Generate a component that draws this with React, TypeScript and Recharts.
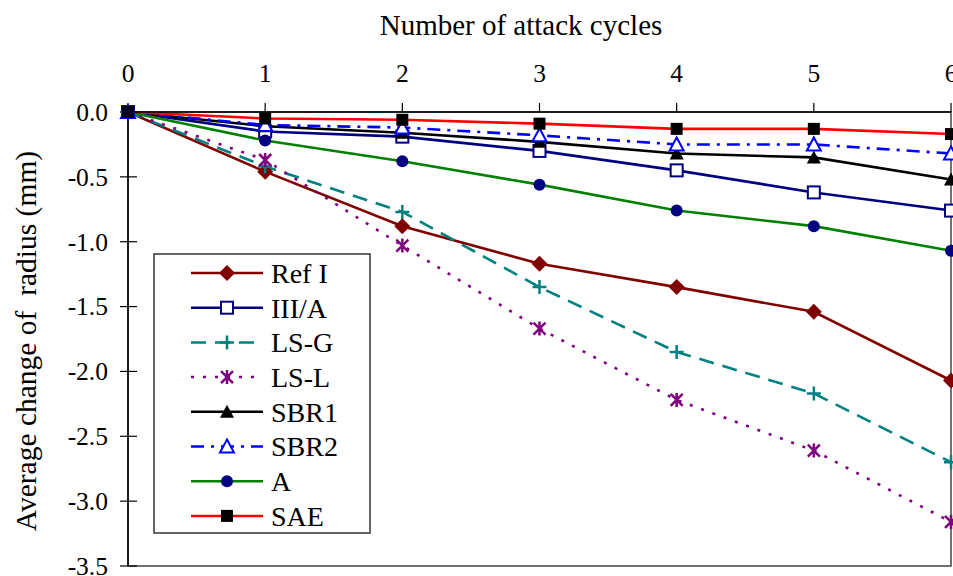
import React from "react";
import { LineChart, Line, XAxis, YAxis, ReferenceArea, Legend } from "recharts";

// values
const cycles = [0, 1, 2, 3, 4, 5, 6];
const refI = [0, -0.46, -0.88, -1.17, -1.35, -1.54, -2.07];
const iiiA = [0, -0.15, -0.19, -0.3, -0.45, -0.62, -0.76];
const lsG = [0, -0.42, -0.77, -1.35, -1.85, -2.17, -2.7];
const lsL = [0, -0.37, -1.03, -1.67, -2.22, -2.61, -3.16];
const sbr1 = [0, -0.11, -0.16, -0.23, -0.32, -0.35, -0.52];
const sbr2 = [0, -0.1, -0.12, -0.18, -0.25, -0.25, -0.32];
const seriesA = [0, -0.22, -0.38, -0.56, -0.76, -0.88, -1.07];
const sae = [0, -0.05, -0.06, -0.09, -0.13, -0.13, -0.17];

const xTicks = [0, 1, 2, 3, 4, 5, 6];
const yTicks = [0, -0.5, -1, -1.5, -2, -2.5, -3, -3.5];

const FONT = "Liberation Serif, DejaVu Serif, Times New Roman, serif";
const fontStyle = { fontFamily: FONT };

type Shape = "diamond" | "squareOpen" | "plus" | "star" | "triFilled" | "triOpen" | "circle" | "squareFilled";

const series: { key: string; name: string; values: number[]; color: string; dash?: string; shape: Shape; markerColor: string }[] = [
  { key: "refI", name: "Ref I", values: refI, color: "#800000", shape: "diamond", markerColor: "#800000" },
  { key: "iiiA", name: "III/A", values: iiiA, color: "#000080", shape: "squareOpen", markerColor: "#000080" },
  { key: "lsG", name: "LS-G", values: lsG, color: "#008080", dash: "15 9", shape: "plus", markerColor: "#008080" },
  { key: "lsL", name: "LS-L", values: lsL, color: "#800080", dash: "3 9", shape: "star", markerColor: "#800080" },
  { key: "sbr1", name: "SBR1", values: sbr1, color: "#000000", shape: "triFilled", markerColor: "#000000" },
  { key: "sbr2", name: "SBR2", values: sbr2, color: "#0000ff", dash: "13 7 3 7", shape: "triOpen", markerColor: "#0000ff" },
  { key: "a", name: "A", values: seriesA, color: "#008000", shape: "circle", markerColor: "#000080" },
  { key: "sae", name: "SAE", values: sae, color: "#ff0000", shape: "squareFilled", markerColor: "#000000" },
];

const data = cycles.map((c, i) => {
  const row: Record<string, number> = { cycle: c };
  series.forEach((s) => (row[s.key] = s.values[i]));
  return row;
});

function Marker({ shape, cx, cy, color }: { shape: Shape; cx: number; cy: number; color: string }) {
  switch (shape) {
    case "diamond":
      return <polygon points={`${cx},${cy - 8} ${cx + 8},${cy} ${cx},${cy + 8} ${cx - 8},${cy}`} fill={color} />;
    case "squareOpen":
      return <rect x={cx - 6} y={cy - 6} width={12} height={12} fill="#fff" stroke={color} strokeWidth={2} />;
    case "plus":
      return <path d={`M${cx - 7},${cy}H${cx + 7}M${cx},${cy - 7}V${cy + 7}`} stroke={color} strokeWidth={2.5} />;
    case "star":
      return (
        <path
          d={`M${cx - 6},${cy - 6}L${cx + 6},${cy + 6}M${cx - 6},${cy + 6}L${cx + 6},${cy - 6}M${cx},${cy - 7}V${cy + 7}`}
          stroke={color}
          strokeWidth={2.5}
        />
      );
    case "triFilled":
      return <polygon points={`${cx},${cy - 7} ${cx + 7},${cy + 6} ${cx - 7},${cy + 6}`} fill={color} />;
    case "triOpen":
      return <polygon points={`${cx},${cy - 7} ${cx + 7},${cy + 6} ${cx - 7},${cy + 6}`} fill="#fff" stroke={color} strokeWidth={2} />;
    case "circle":
      return <circle cx={cx} cy={cy} r={6} fill={color} />;
    default:
      return <rect x={cx - 6} y={cy - 6} width={12} height={12} fill={color} />;
  }
}

const YTick = (props: any) => {
  const { x, y, payload } = props;
  const axisX = x + 8 + 12;
  return (
    <g>
      <line x1={axisX} x2={axisX + 9} y1={y} y2={y} stroke="#000" strokeWidth={1.2} />
      <text x={x} y={y} dy="0.35em" textAnchor="end" fontSize={25.5} style={fontStyle} fill="#000">
        {Number(payload.value).toFixed(1)}
      </text>
    </g>
  );
};

const XTick = (props: any) => {
  const { x, y, payload } = props;
  return (
    <text x={x} y={y} textAnchor="middle" fontSize={25.5} style={fontStyle} fill="#000">
      {payload.value}
    </text>
  );
};

const LegendBox = () => (
  <svg width={218} height={281}>
    <rect x={1} y={1} width={216} height={279} fill="#fff" stroke="#333" strokeWidth={1.5} />
    {series.map((s, i) => {
      const cy = 20 + i * 34.7;
      return (
        <g key={s.key}>
          <line x1={38} x2={110} y1={cy} y2={cy} stroke={s.color} strokeWidth={2.5} strokeDasharray={s.dash} />
          <Marker shape={s.shape} cx={74} cy={cy} color={s.markerColor} />
          <text x={118} y={cy} dy="0.35em" fontSize={28} style={fontStyle} fill="#000">
            {s.name}
          </text>
        </g>
      );
    })}
  </svg>
);

export default function App() {
  return (
    <div
      style={{ position: "absolute", left: 0, top: 0, width: 953, height: 576, overflow: "hidden", background: "#fff", fontFamily: FONT }}
    >
      <LineChart width={960} height={576} data={data} margin={{ top: 0, right: 9, bottom: 10, left: 0 }}>
        <ReferenceArea x1={0} x2={6} y1={-3.5} y2={0} fill="none" stroke="#444" strokeWidth={1.5} />
        <XAxis
          dataKey="cycle"
          type="number"
          domain={[0, 6]}
          ticks={xTicks}
          orientation="top"
          height={112}
          tickSize={9}
          tickMargin={21}
          axisLine={{ stroke: "#000", strokeWidth: 1.5 }}
          tickLine={{ stroke: "#000", strokeWidth: 1.2 }}
          tick={XTick}
          label={{
            content: () => (
              <text x={521} y={35} textAnchor="middle" fontSize={29} style={fontStyle} fill="#000">
                Number of attack cycles
              </text>
            ),
          }}
        />
        <YAxis
          type="number"
          domain={[-3.5, 0]}
          ticks={yTicks}
          width={128}
          tickSize={8}
          tickMargin={12}
          interval={0}
          axisLine={{ stroke: "#000", strokeWidth: 1.5 }}
          tickLine={{ stroke: "#000", strokeWidth: 1.2 }}
          tick={YTick}
          label={{
            content: (p: any) => {
              const vb = p.viewBox || { y: 112, height: 454 };
              const cy = vb.y + vb.height / 2 + 2;
              return (
                <text
                  x={36}
                  y={cy}
                  transform={`rotate(-90, 36, ${cy})`}
                  textAnchor="middle"
                  fontSize={29.5}
                  fill="#000"
                  style={{ ...fontStyle, whiteSpace: "pre" }}
                >
                  {"Average change of  radius (mm)"}
                </text>
              );
            },
          }}
        />
        <Legend
          layout="vertical"
          align="center"
          verticalAlign="middle"
          content={() => <LegendBox />}
          wrapperStyle={{ position: "absolute", left: 153, top: 253, width: 218, height: 281 }}
        />
        {series.map((s) => (
          <Line
            key={s.key}
            dataKey={s.key}
            name={s.name}
            stroke={s.color}
            strokeWidth={2.6}
            strokeDasharray={s.dash}
            isAnimationActive={false}
            dot={(p: any) => <Marker key={`${s.key}-${p.index}`} shape={s.shape} cx={p.cx} cy={p.cy} color={s.markerColor} />}
            activeDot={false}
          />
        ))}
      </LineChart>
    </div>
  );
}
